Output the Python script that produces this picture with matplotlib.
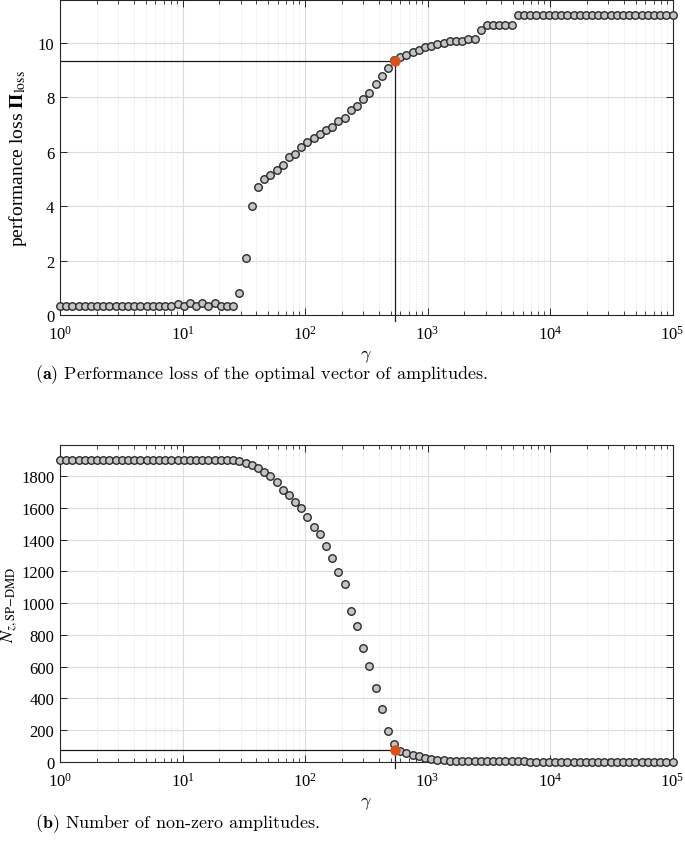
import numpy as np
import matplotlib
matplotlib.use("Agg")
import matplotlib.pyplot as plt
from matplotlib.ticker import LogLocator, NullFormatter, FixedLocator

plt.rcParams['font.family'] = ['Liberation Serif', 'DejaVu Serif']
plt.rcParams['mathtext.fontset'] = 'stix'

# ---- data ----
gamma = np.logspace(0, 5, 100)

loss = ([0.33] * 19 +
        [0.42, 0.33, 0.43, 0.33, 0.44, 0.33, 0.43, 0.33, 0.33, 0.33,
         0.81, 2.09, 4.02, 4.71, 4.98, 5.15, 5.34, 5.51, 5.79, 5.93,
         6.19, 6.37, 6.52, 6.64, 6.81, 6.92, 7.12, 7.25, 7.52, 7.69,
         7.94, 8.14, 8.50, 8.79, 9.08, 9.36, 9.49, 9.56, 9.66, 9.72,
         9.83, 9.90, 9.94, 9.99, 10.07, 10.08, 10.08, 10.15, 10.15, 10.47,
         10.65, 10.65, 10.65, 10.65, 10.65] +
        [11.04] * 26)

nz = ([1900] * 29 +
      [1895, 1882, 1868, 1850, 1824, 1798, 1761, 1713, 1683, 1638,
       1598, 1542, 1482, 1432, 1357, 1285, 1194, 1119, 952, 858,
       719, 604, 463, 334, 193, 116, 70, 57, 46, 38,
       23, 19, 15, 11, 9, 8, 7, 6, 6, 5,
       5, 4, 4, 4, 4, 4, 4, 3, 3, 3,
       3, 3, 3, 3, 3, 3, 3, 3, 3, 3,
       3, 2, 2, 2, 2, 2, 2, 2, 2, 2, 2])

gamma_sel = 540.0
loss_sel = 9.35
nz_sel = 78

yticks_a = [0, 2, 4, 6, 8, 10]
yticks_b = [0, 200, 400, 600, 800, 1000, 1200, 1400, 1600, 1800]

captions = [r'$\mathbf{(a)}$ Performance loss of the optimal vector of amplitudes.',
            r'$\mathbf{(b)}$ Number of non-zero amplitudes.']

W, H = 685, 854
fig = plt.figure(figsize=(W / 100, H / 100), dpi=100)

axA = fig.add_axes([60 / W, (H - 316) / H, 612.5 / W, 315.5 / H])
axB = fig.add_axes([60 / W, (H - 763) / H, 612.5 / W, 317 / H])

frame_col = '#262626'
specs = [(axA, loss, loss_sel, yticks_a,
          r'performance loss $\mathbf{\Pi}_{\mathrm{loss}}$', (29 - 60) / 612.5, 14),
         (axB, nz, nz_sel, yticks_b,
          r'$N_{z,\mathrm{SP\!-\!DMD}}$', (19 - 60) / 612.5, 13)]
for ax, y, ysel, yt, lab, labx, labfs in specs:
    ymax = 1.05 * max(y)
    ax.set_xscale('log')
    ax.set_xlim(1, 1e5)
    ax.set_ylim(0, ymax)
    ax.yaxis.set_major_locator(FixedLocator(yt))
    ax.xaxis.set_major_locator(LogLocator(base=10, numticks=10))
    ax.xaxis.set_minor_locator(LogLocator(base=10, subs=np.arange(2, 10), numticks=100))
    ax.xaxis.set_minor_formatter(NullFormatter())
    ax.set_axisbelow(True)
    ax.grid(True, which='major', axis='both', color='#dcdcdc', lw=0.8, ls='-')
    ax.grid(True, which='minor', axis='x', color='#e0e0e0', lw=0.7, ls=':')
    ax.tick_params(which='both', direction='in', top=True, right=True,
                   colors=frame_col, labelcolor='black', labelsize=12)
    ax.tick_params(axis='x', which='major', pad=7)
    ax.tick_params(axis='y', which='major', pad=4)
    ax.tick_params(which='major', length=5, width=0.7)
    ax.tick_params(which='minor', length=3, width=0.6)
    for s in ax.spines.values():
        s.set_color(frame_col)
        s.set_linewidth(0.8)

    ext = 0.018 * ymax
    ax.plot([1, gamma_sel], [ysel, ysel], color='#1a1a1a', lw=0.9, zorder=2)
    ax.plot([gamma_sel, gamma_sel], [-ext, ysel], color='#1a1a1a', lw=0.9,
            zorder=2, clip_on=False)
    ax.plot(gamma, y, 'o', ms=5.4, mfc='#c4c4c4', mec='#2a2a2a', mew=1.0,
            zorder=3, clip_on=False)
    ax.plot([gamma_sel], [ysel], 'o', ms=7, mfc='#d95319', mec='#d95319',
            mew=0.5, zorder=4)
    ax.set_xlabel(r'$\gamma$', fontsize=13, math_fontfamily='cm', labelpad=3)
    ax.set_ylabel(lab, fontsize=labfs)
    ax.yaxis.set_label_coords(labx, 0.5)

fig.text(35 / W, 1 - 375 / H, captions[0], family='cmr10', math_fontfamily='cm',
         fontsize=13, va='center', ha='left')
fig.text(35 / W, 1 - 824 / H, captions[1], family='cmr10', math_fontfamily='cm',
         fontsize=13, va='center', ha='left')

fig.savefig('out.png', dpi=100)
